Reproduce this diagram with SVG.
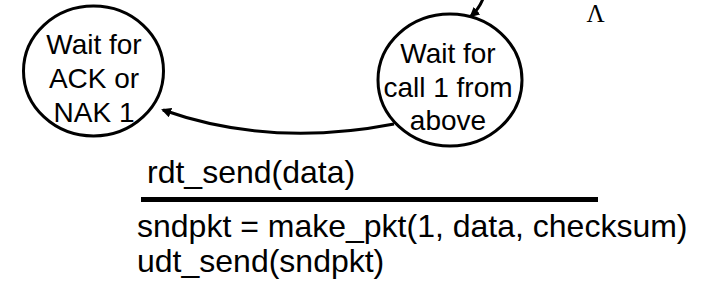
<svg xmlns="http://www.w3.org/2000/svg" width="711" height="307" viewBox="0 0 711 307">
<style>
.st{fill:#fff;stroke:#000;stroke-width:3}
.nt{font-family:"Liberation Sans",Arial,sans-serif;font-size:28px;text-anchor:middle;fill:#000}
.lt{font-family:"Liberation Sans",Arial,sans-serif;font-size:32px;fill:#000}
.cn{fill:none;stroke:#000;stroke-width:3}
</style>
<defs>
<marker id="ah" markerWidth="10" markerHeight="10" refX="8" refY="5" orient="auto" markerUnits="userSpaceOnUse" viewBox="0 0 10 10">
<path d="M0,0 L10,5 L0,10 z" fill="#000"/>
</marker>
</defs>
<rect width="711" height="307" fill="#fff"/>
<g id="connectors">
<path class="cn" d="M484,-4 Q480,8 471,16" marker-end="url(#ah)"/>
<path class="cn" d="M394,124 Q270,148 163,110" marker-end="url(#ah)"/>
<line x1="141" y1="199.5" x2="598" y2="199.5" stroke="#000" stroke-width="5"/>
</g>
<g id="node-wait-ack">
<ellipse class="st" cx="93.5" cy="71" rx="70" ry="65"/>
<text class="nt" x="94" y="54">Wait for</text>
<text class="nt" x="94" y="88">ACK or</text>
<text class="nt" x="94" y="122">NAK 1</text>
</g>
<g id="node-wait-call">
<ellipse class="st" cx="450" cy="80" rx="72" ry="66"/>
<text class="nt" x="448" y="63">Wait for</text>
<text class="nt" x="448" y="97">call 1 from</text>
<text class="nt" x="448" y="130">above</text>
</g>
<text x="595.5" y="22" font-family="Liberation Serif,serif" font-size="25" text-anchor="middle">Λ</text>
<text class="lt" x="147" y="183">rdt_send(data)</text>
<text class="lt" x="137" y="237">sndpkt = make_pkt(1, data, checksum)</text>
<text class="lt" x="137" y="272">udt_send(sndpkt)</text>
</svg>
